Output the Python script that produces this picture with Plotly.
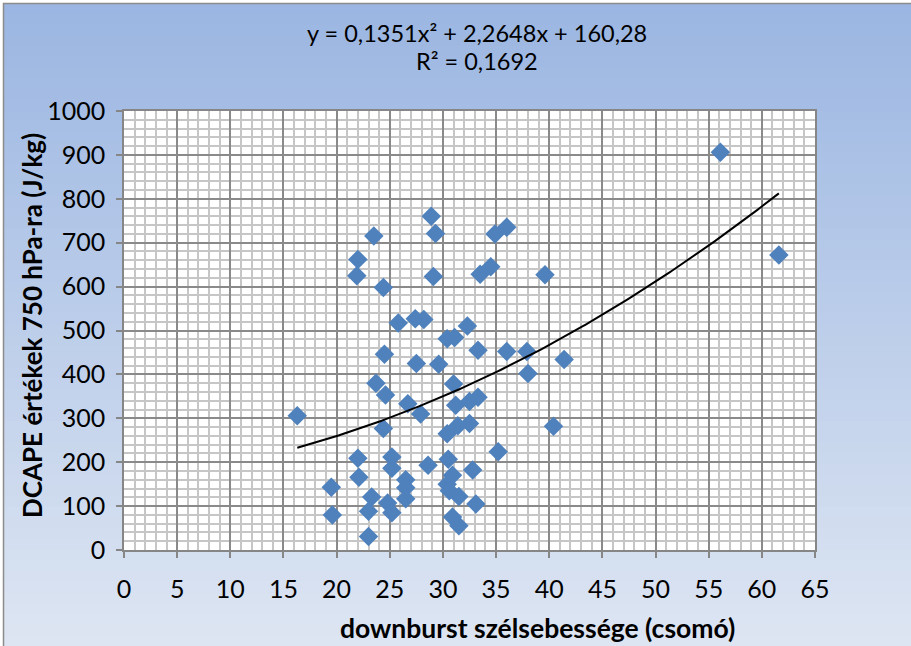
import numpy as np
import plotly.graph_objects as go

# ---- data ----
wind_speed = [16.3, 19.5, 19.6, 21.9, 22.0, 22.0, 22.1, 23.5, 23.3, 23.0, 23.0, 23.7, 24.6, 24.4,
              24.5, 24.4, 25.2, 25.2, 24.8, 25.2, 26.5, 26.5, 26.5, 25.8, 27.4, 28.2, 27.5, 26.7,
              27.9, 28.6, 28.9, 29.3, 29.1, 29.6, 30.4, 31.1, 32.3, 31.0, 31.2, 32.5, 33.3, 33.3,
              30.4, 31.4, 32.5, 30.5, 32.8, 30.9, 30.4, 30.6, 31.5, 33.1, 30.9, 31.5, 33.5, 34.5,
              34.9, 36.0, 39.6, 36.0, 37.9, 38.0, 41.4, 40.4, 35.2, 56.1, 61.6]
dcape = [306, 143, 80, 625, 662, 209, 166, 715, 121, 88, 31, 380, 353, 598,
         446, 277, 212, 186, 107, 85, 160, 142, 117, 517, 527, 525, 425, 333,
         310, 193, 760, 721, 623, 423, 481, 484, 510, 378, 330, 338, 348, 455,
         265, 283, 288, 207, 182, 170, 150, 135, 122, 105, 75, 55, 628, 645,
         720, 735, 627, 452, 452, 402, 434, 282, 224, 906, 672]
trend_coef = [0.1351, 2.2648, 160.28]
equation_text = "y = 0,1351x² + 2,2648x + 160,28"
r2_text = "R² = 0,1692"
x_title = "downburst szélsebessége (csomó)"
y_title = "DCAPE értékek 750 hPa-ra (J/kg)"

W, H = 911, 646
L, R, T, B = 124, 96, 111, 96
PW, PH = W - L - R, H - T - B
FONT = "Lato"

def px(xp):
    return (xp - L) / PW

def py(yp):
    return (H - B - yp) / PH

fig = go.Figure()

xs = np.linspace(min(wind_speed), max(wind_speed), 200)
ys = np.polyval(trend_coef, xs)

fig.add_trace(go.Scatter(x=wind_speed, y=dcape, mode="markers",
                         marker=dict(symbol="diamond", size=15, color="#4F81BD",
                                     line=dict(width=0)),
                         showlegend=False, hoverinfo="x+y"))
fig.add_trace(go.Scatter(x=xs, y=ys, mode="lines", line=dict(color="black", width=2),
                         showlegend=False, hoverinfo="skip"))

# gradient background made of thin strips
shapes = []
top = np.array([155, 182, 226])
bot = np.array([222, 230, 243])
n = 60
for i in range(n):
    y0p = 3 + (H - 3) * i / n
    y1p = 3 + (H - 3) * (i + 1) / n + 1
    c = top + (bot - top) * (i + 0.5) / n
    shapes.append(dict(type="rect", xref="paper", yref="paper", layer="below",
                       x0=px(3), x1=px(W + 5), y0=py(y1p), y1=py(y0p),
                       line=dict(width=0),
                       fillcolor="rgb(%d,%d,%d)" % tuple(c.astype(int))))
shapes.append(dict(type="rect", xref="paper", yref="paper", layer="below",
                   x0=0, x1=1, y0=0, y1=1, line=dict(width=0), fillcolor="white"))
shapes.append(dict(type="rect", xref="paper", yref="paper", layer="below",
                   x0=px(3.5), x1=px(W + 5), y0=py(H + 5), y1=py(3.5),
                   line=dict(width=1.5, color="#8c8c8c"), fillcolor="rgba(0,0,0,0)"))

annotations = [
    dict(text=equation_text, x=px(477), y=py(33), xref="paper", yref="paper",
         showarrow=False, font=dict(family=FONT, size=23.5, color="black"),
         xanchor="center", yanchor="middle"),
    dict(text=r2_text, x=px(477), y=py(61), xref="paper", yref="paper",
         showarrow=False, font=dict(family=FONT, size=23.5, color="black"),
         xanchor="center", yanchor="middle"),
    dict(text="<b>" + x_title + "</b>", x=px(537), y=py(628), xref="paper", yref="paper",
         showarrow=False, font=dict(family=FONT, size=26.5, color="black"),
         xanchor="center", yanchor="middle"),
    dict(text="<b>" + y_title + "</b>", x=px(32), y=py(326), xref="paper", yref="paper",
         showarrow=False, textangle=-90, font=dict(family=FONT, size=26, color="black"),
         xanchor="center", yanchor="middle"),
]

axis_common = dict(showline=True, linecolor="#868686", linewidth=1.5, mirror=True,
                   ticks="outside", ticklen=6, tickcolor="#868686", tickwidth=1.5,
                   showgrid=True, gridcolor="#8a8a8a", gridwidth=2, zeroline=False,
                   tickfont=dict(family=FONT, size=25, color="black"))

fig.update_layout(
    width=W, height=H,
    margin=dict(l=L, r=R, t=T, b=B, pad=0),
    paper_bgcolor="white", plot_bgcolor="white",
    shapes=shapes, annotations=annotations,
    xaxis=dict(range=[0, 65], dtick=5, tick0=0, ticklabelstandoff=10,
               minor=dict(dtick=1, showgrid=True, gridcolor="#c6c6c6", gridwidth=2),
               **axis_common),
    yaxis=dict(range=[0, 1000], dtick=100, tick0=0, ticklabelstandoff=6,
               minor=dict(dtick=20, showgrid=True, gridcolor="#c6c6c6", gridwidth=2),
               **axis_common),
)

fig.write_html("out.html")
